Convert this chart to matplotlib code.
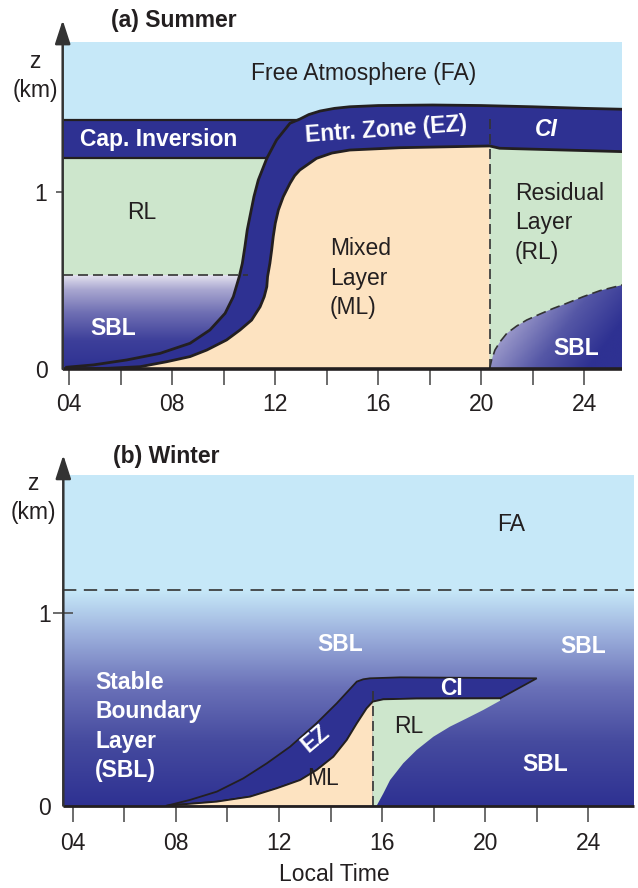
import numpy as np
import matplotlib
matplotlib.use('Agg')
import matplotlib.pyplot as plt
from matplotlib.colors import LinearSegmentedColormap
from matplotlib.patches import Polygon, Rectangle

plt.rcParams['font.family'] = ['Liberation Sans', 'DejaVu Sans']

# colours
navy = '#2e3192'
fa_blue = '#c6e8f8'
rl_green = '#cde6cc'
ml_peach = '#fde3c1'
ink = '#231f20'
tick_grey = '#444444'

# x ticks (local time, h)
tick_hours = list(range(4, 25, 2))
tick_text = ['04', '', '08', '', '12', '', '16', '', '20', '', '24']

# ---- (a) Summer, curves (hour, z in km)
# top of the entrainment zone / capping inversion
sum_ez_top_h = [3.9, 4.93, 6.23, 7.52, 8.69, 9.46, 10.05, 10.37, 10.60, 10.72, 10.82, 10.91, 11.04, 11.17, 11.34,
                11.67, 12.05, 12.57, 12.96, 13.3, 13.74, 14.3, 14.89, 16.0, 18.11, 20.0, 21.99, 24.0, 25.48]
sum_ez_top_z = [0.01, 0.023, 0.051, 0.088, 0.145, 0.22, 0.314, 0.408, 0.521, 0.596, 0.69, 0.784, 0.878, 0.972, 1.066,
                1.188, 1.292, 1.386, 1.41, 1.435, 1.455, 1.47, 1.479, 1.486, 1.489, 1.486, 1.479, 1.47, 1.465]
# top of the mixed layer, then base of the capping inversion after sunset
sum_ml_top_h = [4.3, 5.5, 6.75, 7.78, 8.69, 9.34, 10.11, 10.63, 11.08, 11.41, 11.57, 11.67, 11.70, 11.79, 11.86, 11.92,
                12.0, 12.12, 12.31, 12.57, 12.75, 12.95, 13.6, 14.2, 14.89, 16.83, 20.33, 20.71, 25.48]
sum_ml_top_z = [0.0, 0.004, 0.013, 0.041, 0.070, 0.107, 0.164, 0.220, 0.276, 0.351, 0.408, 0.464, 0.521, 0.596, 0.672, 0.747,
                0.822, 0.897, 0.972, 1.047, 1.09, 1.122, 1.188, 1.218, 1.235, 1.248, 1.258, 1.245, 1.226]
# top of the nocturnal stable layer
sum_night_h = [20.33, 20.34, 20.40, 20.53, 20.73, 20.99, 21.37, 21.76, 22.28, 22.80, 23.31, 23.96, 24.61, 25.48]
sum_night_z = [0.0, 0.013, 0.051, 0.107, 0.154, 0.201, 0.242, 0.276, 0.310, 0.342, 0.370, 0.408, 0.442, 0.474]
sum_cap_base, sum_cap_top = 1.188, 1.404
sum_sbl_top = 0.53
sum_sunset = 20.33

# ---- (b) Winter
win_ez_top_h = [7.65, 8.55, 9.59, 10.62, 11.53, 12.43, 13.46, 14.24, 15.02, 15.27, 15.53, 16.70, 22.0]
win_ez_top_z = [0.0, 0.030, 0.073, 0.142, 0.220, 0.306, 0.428, 0.531, 0.644, 0.656, 0.661, 0.666, 0.661]
win_ml_top_h = [7.65, 9.59, 10.88, 11.91, 12.82, 13.46, 14.11, 14.63, 15.02, 15.40, 15.64, 16.05, 17.34, 20.58]
win_ml_top_z = [0.0, 0.021, 0.047, 0.090, 0.133, 0.185, 0.254, 0.341, 0.427, 0.505, 0.540, 0.552, 0.556, 0.557]
win_rl_base_h = [15.79, 16.05, 16.31, 16.82, 17.34, 17.99, 18.63, 19.28, 19.93, 20.58]
win_rl_base_z = [0.0, 0.064, 0.133, 0.220, 0.289, 0.358, 0.410, 0.453, 0.497, 0.545]
win_fa_base = 1.12
win_sunset = 15.64

fig = plt.figure(figsize=(6.38, 8.88), dpi=100)
W, H = 638.0, 888.0

def px_axes(l, r, b, t):
    return fig.add_axes([l / W, 1 - b / H, (r - l) / W, (b - t) / H])

axa = px_axes(62.7, 622.3, 369, 41.7)
axb = px_axes(63.3, 634.3, 805.7, 475)
xa = (3.744, 25.476)
xb = (3.635, 25.784)

sbl_cmap = LinearSegmentedColormap.from_list('sbl', [(0, navy), (0.3, '#3d3f9a'), (0.6, '#6f6fb3'), (0.85, '#aaa8d1'), (1, '#e4e2ef')])
night_cmap = LinearSegmentedColormap.from_list('night', [(0, '#e2e0ef'), (0.35, '#a4a2cf'), (0.7, '#5557a6'), (1, navy)])
win_cmap = LinearSegmentedColormap.from_list('win', [(0, navy), (0.3, '#464b9f'), (0.55, '#6a71b8'), (0.8, '#9db1dd'), (1, fa_blue)])

dash = (0, (6, 3))
fs = 16.5

# ================= (a) Summer =================
ax = axa
ax.set_facecolor(fa_blue)
ax.add_patch(Rectangle((xa[0], sum_sbl_top), 11.8 - xa[0], sum_cap_base - sum_sbl_top, fc=rl_green, ec='none', zorder=1))
grad = np.linspace(0, 1, 256).reshape(-1, 1)
ax.imshow(grad, extent=(xa[0], 11.2, 0, sum_sbl_top), origin='lower', aspect='auto', cmap=sbl_cmap,
          interpolation='bilinear', zorder=1.5)
ax.add_patch(Rectangle((xa[0], sum_cap_base), 12.9 - xa[0], sum_cap_top - sum_cap_base, fc=navy, ec='none', zorder=2))

band = list(zip(sum_ez_top_h, sum_ez_top_z)) + list(zip(sum_ml_top_h, sum_ml_top_z))[::-1]
ax.add_patch(Polygon(band, closed=True, fc=navy, ec='none', zorder=2))
ml = [(h, z) for h, z in zip(sum_ml_top_h, sum_ml_top_z) if h <= sum_sunset] + [(sum_sunset, 0)]
ax.add_patch(Polygon(ml, closed=True, fc=ml_peach, ec='none', zorder=2))
rl = [(sum_sunset, 0)] + [(h, z) for h, z in zip(sum_ml_top_h, sum_ml_top_z) if h >= sum_sunset] + [(xa[1], 0)]
ax.add_patch(Polygon(rl, closed=True, fc=rl_green, ec='none', zorder=2))

hh, zz = np.meshgrid(np.linspace(20.3, xa[1], 200), np.linspace(0, 0.48, 100))
tt = np.clip(0.1 + 0.75 * (hh - 20.3) / 5.2 + 0.35 * (1 - zz / 0.47), 0, 1)
im = ax.imshow(tt, extent=(20.3, xa[1], 0, 0.48), origin='lower', aspect='auto', cmap=night_cmap, vmin=0, vmax=1,
               interpolation='bilinear', zorder=2.5)
night_poly = Polygon(list(zip(sum_night_h, sum_night_z)) + [(xa[1], 0)], closed=True, transform=ax.transData,
                     fc='none', ec='none')
ax.add_patch(night_poly)
im.set_clip_path(night_poly)

ax.plot(sum_ez_top_h, sum_ez_top_z, color=ink, lw=2, zorder=3)
ax.plot(sum_ml_top_h, sum_ml_top_z, color=ink, lw=2, zorder=3)
ax.plot([xa[0], 12.9], [sum_cap_top] * 2, color=ink, lw=1.6, zorder=3)
ax.plot([xa[0], 11.67], [sum_cap_base] * 2, color=ink, lw=1.6, zorder=3)
ax.plot([xa[0], 10.95], [sum_sbl_top] * 2, color='#333333', lw=1.2, ls=dash, zorder=3.5)
ax.plot([sum_sunset] * 2, [0, 1.416], color='#333333', lw=1.2, ls=dash, zorder=3.5)
ax.plot(sum_night_h, sum_night_z, color='#333333', lw=1.2, ls=dash, zorder=3.5)

ax.text(15.42, 1.669, 'Free Atmosphere (FA)', ha='center', va='center', fontsize=fs, color=ink)
ax.text(7.46, 1.292, 'Cap. Inversion', ha='center', va='center', fontsize=fs, color='white', fontweight='bold')
ax.text(16.30, 1.348, 'Entr. Zone (EZ)', ha='center', va='center', fontsize=fs, color='white', fontweight='bold',
        rotation=4)
ax.text(22.54, 1.348, 'CI', ha='center', va='center', fontsize=fs, color='white', fontweight='bold', fontstyle='italic')
ax.text(21.31, 0.825, 'Residual\nLayer\n(RL)', ha='left', va='center', fontsize=fs, color=ink, linespacing=1.35)
ax.text(14.12, 0.513, 'Mixed\nLayer\n(ML)', ha='left', va='center', fontsize=fs, color=ink, linespacing=1.35)
ax.text(6.82, 0.88, 'RL', ha='center', va='center', fontsize=fs, color=ink)
ax.text(5.70, 0.231, 'SBL', ha='center', va='center', fontsize=fs, color='white', fontweight='bold')
ax.text(23.70, 0.117, 'SBL', ha='center', va='center', fontsize=fs, color='white', fontweight='bold')

# ================= (b) Winter =================
ax = axb
ax.set_facecolor(fa_blue)
ax.imshow(grad, extent=(xb[0], xb[1], 0, win_fa_base), origin='lower', aspect='auto', cmap=win_cmap,
          interpolation='bilinear', zorder=1)
wband = list(zip(win_ez_top_h, win_ez_top_z)) + list(zip(win_ml_top_h, win_ml_top_z))[::-1]
ax.add_patch(Polygon(wband, closed=True, fc=navy, ec=ink, lw=1.3, zorder=2))
wml = [(h, z) for h, z in zip(win_ml_top_h, win_ml_top_z) if h <= win_sunset] + [(win_sunset, 0)]
ax.add_patch(Polygon(wml, closed=True, fc=ml_peach, ec='none', zorder=2))
wrl = ([(win_sunset, 0)] + [(h, z) for h, z in zip(win_ml_top_h, win_ml_top_z) if h >= win_sunset]
       + list(zip(win_rl_base_h, win_rl_base_z))[::-1])
ax.add_patch(Polygon(wrl, closed=True, fc=rl_green, ec='none', zorder=2))
ax.plot(win_ml_top_h, win_ml_top_z, color=ink, lw=1.3, zorder=3)
ax.plot([win_sunset] * 2, [0, 0.618], color='#333333', lw=1.2, ls=dash, zorder=3.5)
ax.plot(list(xb), [win_fa_base] * 2, color='#333333', lw=1.2, ls=(0, (8, 4.5)), zorder=3.5)

ax.text(21.0, 1.457, 'FA', ha='center', va='center', fontsize=fs, color=ink)
ax.text(14.38, 0.834, 'SBL', ha='center', va='center', fontsize=fs, color='white', fontweight='bold')
ax.text(23.79, 0.824, 'SBL', ha='center', va='center', fontsize=fs, color='white', fontweight='bold')
ax.text(22.32, 0.212, 'SBL', ha='center', va='center', fontsize=fs, color='white', fontweight='bold')
ax.text(4.87, 0.411, 'Stable\nBoundary\nLayer\n(SBL)', ha='left', va='center', fontsize=fs, color='white',
        fontweight='bold', linespacing=1.35)
ax.text(18.69, 0.609, 'CI', ha='center', va='center', fontsize=fs, color='white', fontweight='bold')
ax.text(17.02, 0.41, 'RL', ha='center', va='center', fontsize=fs, color=ink)
ax.text(13.72, 0.142, 'ML', ha='center', va='center', fontsize=fs, color=ink)
ax.text(13.40, 0.35, 'EZ', ha='center', va='center', fontsize=fs, color='white', fontweight='bold', rotation=40)

# ================= axes styling =================
for ax, xl, yl, tip, ydir, ylen, ypad, xpad, base_lw in [
        (axa, xa, 1.846, 1.066, 'out', 5, 6, 5.5, 2.6),
        (axb, xb, 1.716, 1.0605, 'inout', 14, 2, 7.5, 2.0)]:
    ax.set_xlim(*xl)
    ax.set_ylim(0, yl)
    for s in ax.spines.values():
        s.set_visible(False)
    ax.set_xticks(tick_hours)
    ax.set_xticklabels(tick_text)
    ax.tick_params(axis='x', direction='out', length=11.5, width=1.1, color=tick_grey, pad=xpad, labelsize=fs,
                   labelcolor=ink)
    ax.set_yticks([0, 1])
    ax.set_yticklabels(['0', '1'])
    ax.tick_params(axis='y', direction=ydir, length=ylen, width=1.1, color=tick_grey, pad=ypad, labelsize=fs,
                   labelcolor=ink)
    ax.yaxis.get_major_ticks()[0].tick1line.set_visible(False)
    ax.plot(list(xl), [0, 0], color=ink, lw=base_lw, clip_on=False, solid_capstyle='butt', zorder=6)
    ax.annotate('', xy=(0, tip), xycoords='axes fraction', xytext=(0, 0), textcoords='axes fraction',
                arrowprops=dict(arrowstyle='-|>,head_length=0.8,head_width=0.26', color='#333333', lw=1.8,
                                mutation_scale=18, shrinkA=0, shrinkB=0),
                annotation_clip=False, zorder=7)

fig.text(173.5 / W, 1 - 21 / H, '(a) Summer', ha='center', va='center', fontsize=fs, fontweight='bold', color=ink)
fig.text(165.8 / W, 1 - 456.7 / H, '(b) Winter', ha='center', va='center', fontsize=fs, fontweight='bold', color=ink)
fig.text(35 / W, 1 - 68.3 / H, 'z', ha='center', va='baseline', fontsize=fs, color=ink)
fig.text(35 / W, 1 - 96.7 / H, '(km)', ha='center', va='baseline', fontsize=fs, color=ink)
fig.text(33 / W, 1 - 490 / H, 'z', ha='center', va='baseline', fontsize=fs, color=ink)
fig.text(33 / W, 1 - 519 / H, '(km)', ha='center', va='baseline', fontsize=fs, color=ink)
fig.text(334.7 / W, 1 - 874 / H, 'Local Time', ha='center', va='center', fontsize=fs, color=ink)

fig.savefig('out.png', dpi=100)
